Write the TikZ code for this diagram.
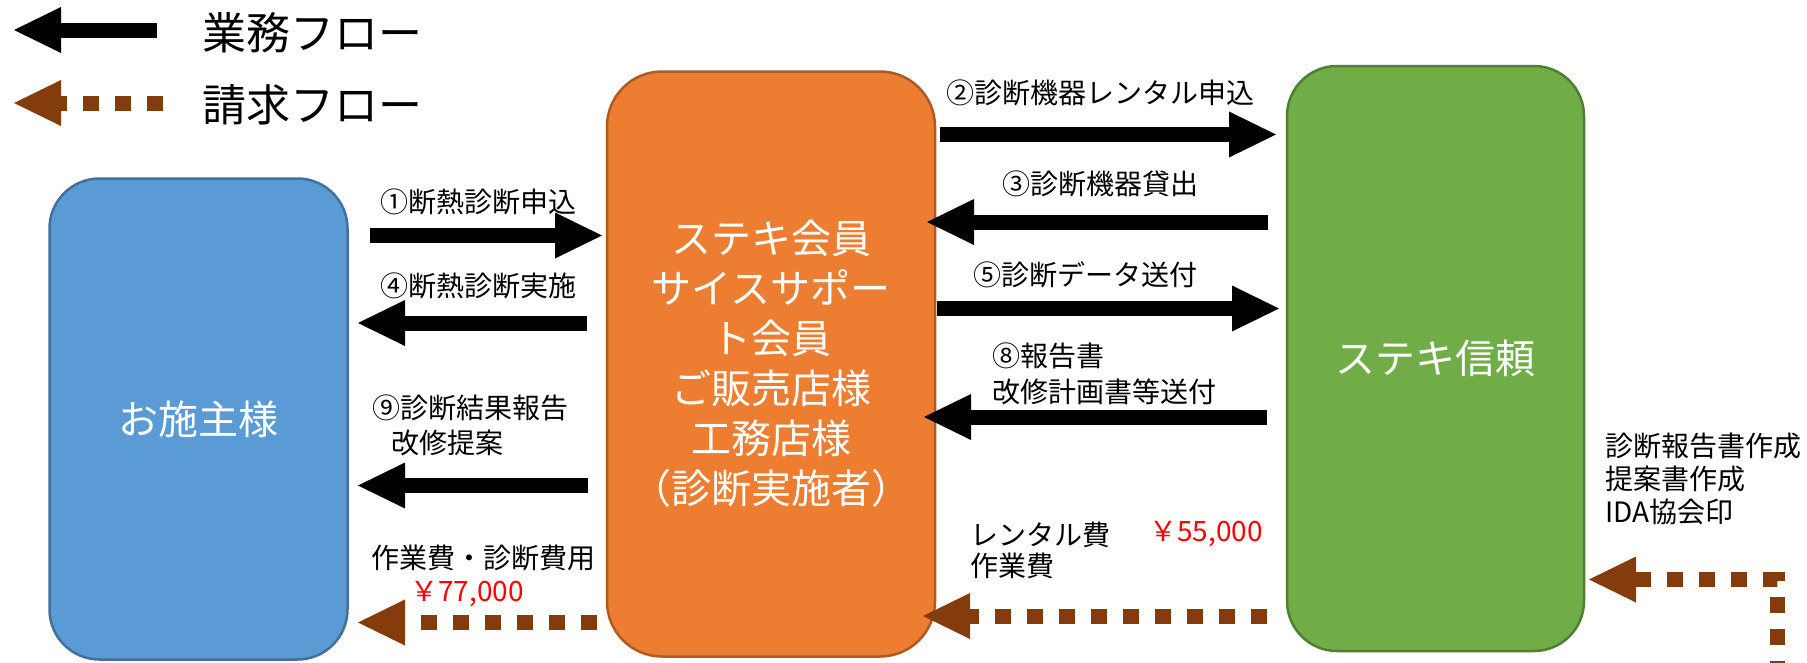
\documentclass[tikz,border=0pt]{standalone}
\usepackage{fontspec}
\setmainfont{Noto Sans CJK JP}
\usetikzlibrary{arrows.meta}
\definecolor{boxblue}{HTML}{5B9BD5}
\definecolor{boxblueline}{HTML}{41719C}
\definecolor{boxorange}{HTML}{ED7D31}
\definecolor{boxorangeline}{HTML}{AE5A21}
\definecolor{boxgreen}{HTML}{70AD47}
\definecolor{boxgreenline}{HTML}{507E32}
\definecolor{billbrown}{HTML}{843C0C}
\definecolor{pricered}{HTML}{FF0000}
\begin{document}
\begin{tikzpicture}[x=1pt,y=-1pt,
  party/.style={draw, line width=2.5pt, text=white, align=center, inner sep=0pt,
    font=\fontsize{40}{50}\selectfont},
  flowarrow/.style={draw=black, line width=15pt,
    -{Triangle[length=47pt,width=46pt,line width=0pt]}},
  billarrow/.style={draw=billbrown, line width=15pt, dash pattern=on 16pt off 16pt,
    -{Triangle[length=47pt,width=46pt,line width=0pt]}},
  lbl/.style={inner sep=0pt, font=\fontsize{28}{34}\selectfont, text=black},
  price/.style={lbl, text=pricered},
  legendtext/.style={inner sep=0pt, anchor=west, font=\fontsize{44}{50}\selectfont}
]
\useasboundingbox (0,0) rectangle (1807,662);
\clip (0,0) rectangle (1807,662);

% boxes
\node[party, fill=boxblue, draw=boxblueline, rounded corners=50pt,
      minimum width=298pt, minimum height=481pt] (owner) at (198.5,419) {お施主様};
\node[party, fill=boxorange, draw=boxorangeline, rounded corners=55pt,
      minimum width=328pt, minimum height=585pt] (member) at (771,364)
      {ステキ会員\\サイスサポー\\ト会員\\ご販売店様\\工務店様\\（診断実施者）};
\node[party, fill=boxgreen, draw=boxgreenline, rounded corners=50pt,
      minimum width=297pt, minimum height=585pt] (steki) at (1435.5,358.5) {ステキ信頼};

% legend
\coordinate (lg1s) at (157,30);
\coordinate (lg1e) at (14,30);
\coordinate (lg2s) at (163,103);
\coordinate (lg2e) at (14,103);
\draw[flowarrow] (lg1s) -- (lg1e);
\draw[billarrow] (lg2s) -- (lg2e);
\node[legendtext] (lgt1) at (202,33) {業務フロー};
\node[legendtext] (lgt2) at (202,105) {請求フロー};

% connector end points
\coordinate (a1s) at (370,235.5);  \coordinate (a1e) at (602,235.5);
\coordinate (a4s) at (587,323);    \coordinate (a4e) at (358,323);
\coordinate (a9s) at (588,485.5);  \coordinate (a9e) at (358,485.5);
\coordinate (b1s) at (597,622.5);  \coordinate (b1e) at (358,622.5);
\coordinate (a2s) at (940,134.5);  \coordinate (a2e) at (1276,134.5);
\coordinate (a3s) at (1268,222);   \coordinate (a3e) at (927,222);
\coordinate (a5s) at (937,308.5);  \coordinate (a5e) at (1279,308.5);
\coordinate (a8s) at (1267,417);   \coordinate (a8e) at (924,417);
\coordinate (b2s) at (1267,616);   \coordinate (b2e) at (923,616);
\coordinate (b3s) at (1777,677);   \coordinate (b3c) at (1777,579.5);
\coordinate (b3e) at (1589,579.5);

% business flow
\draw[flowarrow] (a1s) -- (a1e);
\draw[flowarrow] (a4s) -- (a4e);
\draw[flowarrow] (a9s) -- (a9e);
\draw[flowarrow] (a2s) -- (a2e);
\draw[flowarrow] (a3s) -- (a3e);
\draw[flowarrow] (a5s) -- (a5e);
\draw[flowarrow] (a8s) -- (a8e);

% billing flow
\draw[billarrow] (b1s) -- (b1e);
\draw[billarrow] (b2s) -- (b2e);
\draw[billarrow] (b3s) -- (b3c) -- (b3e);

% labels
\node[lbl] (l1) at (478,202) {①断熱診断申込};
\node[lbl] (l4) at (478,286) {④断熱診断実施};
\node[lbl, anchor=west, align=left, font=\fontsize{28}{35}\selectfont] (l9) at (372,425.5)
  {⑨診断結果報告\\\hspace*{19pt}改修提案};
\node[lbl] (f1) at (483,558) {作業費・診断費用};
\node[price] (p1) at (467,594) {￥77,000};
\node[lbl] (l2) at (1100,93) {②診断機器レンタル申込};
\node[lbl] (l3) at (1100,184) {③診断機器貸出};
\node[lbl] (l5) at (1085,275) {⑤診断データ送付};
\node[lbl, anchor=west, align=left, font=\fontsize{28}{36}\selectfont] (l8) at (992,374)
  {⑧報告書\\改修計画書等送付};
\node[lbl, anchor=west, align=left, font=\fontsize{28}{31}\selectfont] (f2) at (970,550)
  {レンタル費\\作業費};
\node[price] (p2) at (1206,534) {￥55,000};
\node[lbl, anchor=west, align=left, font=\fontsize{28}{33}\selectfont] (r1) at (1605,479)
  {診断報告書作成\\提案書作成\\IDA協会印};
\end{tikzpicture}
\end{document}
